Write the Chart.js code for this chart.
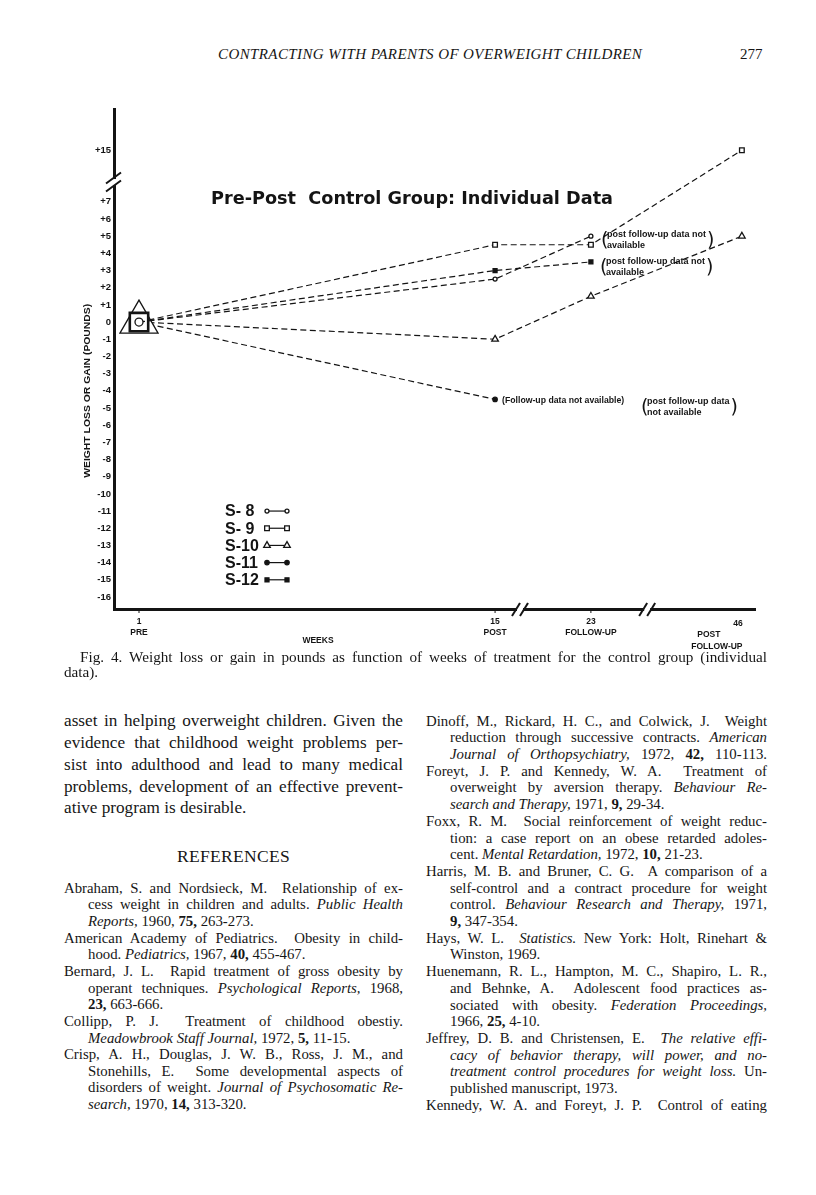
<!DOCTYPE html>
<html>
<head>
<meta charset="utf-8">
<title>Contracting with parents of overweight children - Fig. 4</title>
<script src="https://cdn.jsdelivr.net/npm/chart.js@4.4.1/dist/chart.umd.min.js"></script>
<style>
  html, body { margin: 0; padding: 0; background: #fff; }
  body { position: relative; width: 816px; height: 1195px; overflow: hidden;
         font-family: 'Liberation Serif', 'DejaVu Serif', serif; color: #161616; }
  #chartBox { position: absolute; left: 0; top: 100px; width: 816px; height: 555px; }
  .ln { position: absolute; white-space: nowrap; }
  .jl { text-align: justify; text-align-last: justify; }
  #runhead { position: absolute; left: 218px; top: 46px; font-style: italic; font-size: 15px; letter-spacing: 0.4px; }
  #pageno { position: absolute; left: 740px; top: 46px; font-size: 15px; }
  #refHead { position: absolute; left: 64px; width: 339px; top: 846px; text-align: center; font-size: 17.5px; letter-spacing: 0.3px; }
</style>
</head>
<body>
<div id="runhead">CONTRACTING WITH PARENTS OF OVERWEIGHT CHILDREN</div>
<div id="pageno">277</div>
<div id="chartBox"><canvas id="weightChart"></canvas></div>
<div id="refHead">REFERENCES</div>
<div id="textArea"></div>
<script>
// ---- data (pounds gained (+) or lost (-)) ----
const WEEKS = [1, 15, 23, 46];
const WEEK_LABELS = [['1', 'PRE'], ['15', 'POST'], ['23', 'FOLLOW-UP'], ['46', 'POST', 'FOLLOW-UP']];
const SERIES_NAMES = ['S- 8', 'S- 9', 'S-10', 'S-11', 'S-12'];
const S8 = [0, 2.5, 5, null];
const S9 = [0, 4.5, 4.5, 15];
const S10 = [0, -1, 1.5, 5];
const S11 = [0, -4.5, null, null];
const S12 = [0, 3, 3.5, null];
const Y_TICKS = [-16, -15, -14, -13, -12, -11, -10, -9, -8, -7, -6, -5, -4, -3, -2, -1, 0, 1, 2, 3, 4, 5, 6, 7, 15];

const NOTE_POST = ['post follow-up data not', 'available'];
const NOTE_FOLLOW = '(Follow-up data not available)';
const NOTE_POST2 = ['post follow-up data', 'not available'];

// broken x axis: weeks 1-15 at full scale, the two later gaps are squeezed
function weekPos(w) {
    if (w <= 15) return w;
    if (w <= 23) return 15 + (w - 15) * 0.471;
    return 18.77 + (w - 23) * 0.258;
}
// broken y axis: above +7 the scale jumps, +15 sits only 3 steps higher
function lbPos(v) {
    return v <= 7 ? v : 7 + (v - 7) * 0.375;
}
function lbFromPos(p) {
    return p <= 7 ? p : 7 + (p - 7) / 0.375;
}

function seriesPoints(vals) {
    return WEEKS.map((w, i) => vals[i] == null ? null : { x: weekPos(w), y: lbPos(vals[i]) })
                .filter(p => p !== null);
}

const INK = '#141414';
const SANS = '"Liberation Sans", Arial, sans-serif';

function makeDataset(label, vals, style, radius, firstRadius, filled) {
    const pts = seriesPoints(vals);
    return {
        label: label,
        data: pts,
        borderColor: INK,
        borderWidth: 1.2,
        borderDash: [6, 3.5],
        pointStyle: style,
        pointRadius: pts.map((p, i) => i === 0 ? firstRadius : radius),
        pointBorderWidth: pts.map((p, i) => (i === 0 && style === 'rect') ? 2.6 : 1.3),
        pointBorderColor: INK,
        pointBackgroundColor: filled ? INK : '#fff',
        tension: 0,
        clip: false
    };
}

// draw text squeezed/stretched to a given width
function fitText(ctx, text, cx, cy, width, rotate) {
    const w = ctx.measureText(text).width;
    ctx.save();
    ctx.translate(cx, cy);
    if (rotate) ctx.rotate(-Math.PI / 2);
    ctx.scale(width / w, 1);
    ctx.textAlign = 'center';
    ctx.textBaseline = 'middle';
    ctx.fillText(text, 0, 0);
    ctx.restore();
}

function drawNote(ctx, lines, left, top, lineGap) {
    ctx.font = 'bold 9px ' + SANS;
    ctx.textAlign = 'left';
    ctx.textBaseline = 'middle';
    let maxW = 0;
    lines.forEach((t, i) => {
        ctx.fillText(t, left + 4, top + i * lineGap);
        maxW = Math.max(maxW, ctx.measureText(t).width);
    });
    ctx.font = '19px "DejaVu Sans", sans-serif';
    const mid = top + lineGap * (lines.length - 1) / 2 + 1;
    ctx.fillText('(', left - 2, mid);
    ctx.fillText(')', left + 4 + maxW + 1, mid);
}

const pageDecor = {
    id: 'pageDecor',
    afterDraw(chart) {
        const { ctx, chartArea: a, scales: { x, y } } = chart;
        ctx.save();
        ctx.fillStyle = INK;
        ctx.strokeStyle = INK;

        // --- y axis break between +7 and +15
        const by = y.getPixelForValue(8.15);
        ctx.fillStyle = '#fff';
        ctx.fillRect(a.left - 3, by - 3, 6, 6);
        ctx.fillStyle = INK;
        ctx.lineWidth = 2;
        [-4, 4].forEach(d => {
            ctx.beginPath();
            ctx.moveTo(a.left - 8, by + d + 5.5);
            ctx.lineTo(a.left + 7, by + d - 5.5);
            ctx.stroke();
        });

        // --- x axis breaks
        [15.98, 20.98].forEach(v => {
            const bx = x.getPixelForValue(v);
            ctx.fillStyle = '#fff';
            ctx.fillRect(bx - 3, a.bottom - 3, 6, 6);
            ctx.fillStyle = INK;
            [-4, 4].forEach(d => {
                ctx.beginPath();
                ctx.moveTo(bx + d - 4, a.bottom + 7);
                ctx.lineTo(bx + d + 4, a.bottom - 6);
                ctx.stroke();
            });
        });

        // --- small ticks and week labels under the x axis
        ctx.lineWidth = 1;
        ctx.font = 'bold 8.5px ' + SANS;
        ctx.textBaseline = 'middle';
        ctx.textAlign = 'center';
        WEEKS.forEach((w, i) => {
            const px = x.getPixelForValue(weekPos(w));
            const lab = WEEK_LABELS[i];
            if (i < 3) {
                ctx.beginPath();
                ctx.moveTo(px, a.bottom + 1);
                ctx.lineTo(px, a.bottom + 4);
                ctx.stroke();
                ctx.fillText(lab[0], px, a.bottom + 13);
                ctx.fillText(lab[1], px, a.bottom + 24);
            } else {
                ctx.fillText(lab[0], px - 4, a.bottom + 15);
                ctx.fillText(lab[1], px - 33, a.bottom + 26);
                ctx.fillText(lab[2], px - 25, a.bottom + 38);
            }
        });
        ctx.fillText('WEEKS', a.left + 204, a.bottom + 32);

        // --- y axis title
        ctx.font = 'bold 9.5px ' + SANS;
        fitText(ctx, 'WEIGHT LOSS OR GAIN (POUNDS)', a.left - 27, y.getPixelForValue(-4), 174, true);

        // --- chart title
        ctx.font = 'bold 17px "DejaVu Sans", sans-serif';
        fitText(ctx, 'Pre-Post  Control Group: Individual Data', a.left + 298, y.getPixelForValue(7.1), 402, false);

        // --- notes next to the last available points
        const p23s9 = { x: x.getPixelForValue(weekPos(23)), y: y.getPixelForValue(lbPos(S9[2])) };
        const p23s12 = { x: x.getPixelForValue(weekPos(23)), y: y.getPixelForValue(lbPos(S12[2])) };
        const p15s11 = { x: x.getPixelForValue(weekPos(15)), y: y.getPixelForValue(lbPos(S11[1])) };
        drawNote(ctx, NOTE_POST, p23s9.x + 12, p23s9.y - 10, 11);
        drawNote(ctx, NOTE_POST, p23s12.x + 11, p23s12.y, 11);
        drawNote(ctx, NOTE_POST2, p15s11.x + 148, p15s11.y + 2, 11);
        ctx.font = 'bold 8.7px ' + SANS;
        ctx.textAlign = 'left';
        ctx.fillText(NOTE_FOLLOW, p15s11.x + 7, p15s11.y + 1);

        // --- key
        const styles = chart.data.datasets;
        SERIES_NAMES.forEach((name, i) => {
            const ry = y.getPixelForValue(-11 - i);
            ctx.fillStyle = INK;
            ctx.font = 'bold 16px ' + SANS;
            ctx.textAlign = 'left';
            ctx.fillText(name, a.left + 111, ry + 1);
            const x1 = a.left + 153, x2 = a.left + 173;
            ctx.lineWidth = 1.2;
            ctx.beginPath();
            ctx.moveTo(x1, ry);
            ctx.lineTo(x2, ry);
            ctx.stroke();
            const ds = styles[i];
            [x1, x2].forEach(px => {
                ctx.fillStyle = ds.pointBackgroundColor;
                ctx.strokeStyle = INK;
                ctx.lineWidth = 1.3;
                Chart.helpers.drawPoint(ctx, {
                    pointStyle: ds.pointStyle,
                    radius: ds.pointRadius[1],
                    rotation: 0,
                    borderWidth: 1.3
                }, px, ry);
            });
        });
        ctx.restore();
    }
};

new Chart(document.getElementById('weightChart'), {
    type: 'line',
    data: {
        datasets: [
            makeDataset('S-8', S8, 'circle', 2, 4, false),
            makeDataset('S-9', S9, 'rect', 3.3, 13, false),
            makeDataset('S-10', S10, 'triangle', 3.8, 22, false),
            makeDataset('S-11', S11, 'circle', 2.2, 0, true),
            makeDataset('S-12', S12, 'rect', 2.8, 0, true)
        ]
    },
    options: {
        responsive: true,
        maintainAspectRatio: false,
        animation: false,
        layout: { autoPadding: false, padding: { top: 9, right: 61, bottom: 0, left: 0 } },
        plugins: { legend: { display: false }, tooltip: { enabled: false } },
        scales: {
            x: {
                type: 'linear',
                min: 0.017,
                max: 25.22,
                grid: { display: false, drawTicks: false },
                border: { display: true, color: INK, width: 3 },
                ticks: { display: false },
                afterFit: s => { s.height = 46; }
            },
            y: {
                type: 'linear',
                min: -16.7,
                max: 12.4,
                grid: { display: false, drawTicks: false },
                border: { display: true, color: INK, width: 3 },
                ticks: {
                    color: INK,
                    padding: 3,
                    font: { family: SANS, size: 9.5, weight: 'bold' },
                    callback: v => {
                        const lb = Math.round(lbFromPos(v));
                        return lb > 0 ? '+' + lb : String(lb);
                    }
                },
                afterBuildTicks: s => { s.ticks = Y_TICKS.map(v => ({ value: lbPos(v) })); },
                afterFit: s => { s.width = 114; }
            }
        }
    },
    plugins: [pageDecor]
});

// ---- page text ----
const CAPTION = [
    ['Fig. 4. Weight loss or gain in pounds as function of weeks of treatment for the control group (individual', 80, 687, 1],
    ['data).', 64, 300, 0]
];
const BODY_LEFT = [
    ['asset in helping overweight children. Given the', 0, 1],
    ['evidence that childhood weight problems per-', 0, 1],
    ['sist into adulthood and lead to many medical', 0, 1],
    ['problems, development of an effective prevent-', 0, 1],
    ['ative program is desirable.', 0, 0]
];
const REFS_LEFT = [
    ['Abraham, S. and Nordsieck, M.&nbsp; Relationship of ex-', 0, 1],
    ['cess weight in children and adults. <i>Public Health</i>', 1, 1],
    ['<i>Reports,</i> 1960, <b>75,</b> 263-273.', 1, 0],
    ['American Academy of Pediatrics.&nbsp; Obesity in child-', 0, 1],
    ['hood. <i>Pediatrics,</i> 1967, <b>40,</b> 455-467.', 1, 0],
    ['Bernard, J. L.&nbsp; Rapid treatment of gross obesity by', 0, 1],
    ['operant techniques. <i>Psychological Reports,</i> 1968,', 1, 1],
    ['<b>23,</b> 663-666.', 1, 0],
    ['Collipp, P. J.&nbsp; Treatment of childhood obestiy.', 0, 1],
    ['<i>Meadowbrook Staff Journal,</i> 1972, <b>5,</b> 11-15.', 1, 0],
    ['Crisp, A. H., Douglas, J. W. B., Ross, J. M., and', 0, 1],
    ['Stonehills, E.&nbsp; Some developmental aspects of', 1, 1],
    ['disorders of weight. <i>Journal of Psychosomatic Re-</i>', 1, 1],
    ['<i>search,</i> 1970, <b>14,</b> 313-320.', 1, 0]
];
const REFS_RIGHT = [
    ['Dinoff, M., Rickard, H. C., and Colwick, J.&nbsp; Weight', 0, 1],
    ['reduction through successive contracts. <i>American</i>', 1, 1],
    ['<i>Journal of Orthopsychiatry,</i> 1972, <b>42,</b> 110-113.', 1, 1],
    ['Foreyt, J. P. and Kennedy, W. A.&nbsp; Treatment of', 0, 1],
    ['overweight by aversion therapy. <i>Behaviour Re-</i>', 1, 1],
    ['<i>search and Therapy,</i> 1971, <b>9,</b> 29-34.', 1, 0],
    ['Foxx, R. M.&nbsp; Social reinforcement of weight reduc-', 0, 1],
    ['tion: a case report on an obese retarded adoles-', 1, 1],
    ['cent. <i>Mental Retardation,</i> 1972, <b>10,</b> 21-23.', 1, 0],
    ['Harris, M. B. and Bruner, C. G.&nbsp; A comparison of a', 0, 1],
    ['self-control and a contract procedure for weight', 1, 1],
    ['control. <i>Behaviour Research and Therapy,</i> 1971,', 1, 1],
    ['<b>9,</b> 347-354.', 1, 0],
    ['Hays, W. L.&nbsp; <i>Statistics.</i> New York: Holt, Rinehart &amp;', 0, 1],
    ['Winston, 1969.', 1, 0],
    ['Huenemann, R. L., Hampton, M. C., Shapiro, L. R.,', 0, 1],
    ['and Behnke, A.&nbsp; Adolescent food practices as-', 1, 1],
    ['sociated with obesity. <i>Federation Proceedings,</i>', 1, 1],
    ['1966, <b>25,</b> 4-10.', 1, 0],
    ['Jeffrey, D. B. and Christensen, E.&nbsp; <i>The relative effi-</i>', 0, 1],
    ['<i>cacy of behavior therapy, will power, and no-</i>', 1, 1],
    ['<i>treatment control procedures for weight loss.</i> Un-', 1, 1],
    ['published manuscript, 1973.', 1, 0],
    ['Kennedy, W. A. and Foreyt, J. P.&nbsp; Control of eating', 0, 1]
];

function placeLines(lines, opts) {
    const host = document.getElementById('textArea');
    lines.forEach((ln, i) => {
        const [html, indent, just] = ln;
        const d = document.createElement('div');
        d.className = 'ln' + (just ? ' jl' : '');
        const off = indent ? opts.indent : 0;
        d.style.left = (opts.left + off) + 'px';
        d.style.width = (opts.width - off) + 'px';
        d.style.top = (opts.top + i * opts.step - opts.step / 2) + 'px';
        d.style.fontSize = opts.size + 'px';
        d.style.lineHeight = opts.step + 'px';
        d.innerHTML = html;
        host.appendChild(d);
    });
}

CAPTION.forEach((c, i) => {
    const d = document.createElement('div');
    d.className = 'ln' + (c[3] ? ' jl' : '');
    d.style.left = c[1] + 'px';
    d.style.width = c[2] + 'px';
    d.style.top = (657 + i * 14.5 - 8) + 'px';
    d.style.fontSize = '15.2px';
    d.style.lineHeight = '16px';
    d.textContent = c[0];
    document.getElementById('textArea').appendChild(d);
});
placeLines(BODY_LEFT, { left: 64, width: 339, indent: 0, top: 721, step: 21.8, size: 17.2 });
placeLines(REFS_LEFT, { left: 64, width: 339, indent: 24, top: 888, step: 16.65, size: 14.8 });
placeLines(REFS_RIGHT, { left: 426, width: 341, indent: 24, top: 721, step: 16.7, size: 14.8 });
</script>
</body>
</html>
